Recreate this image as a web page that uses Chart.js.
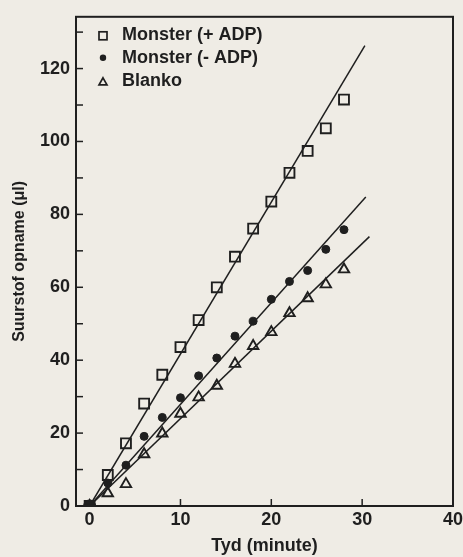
<!DOCTYPE html>
<html>
<head>
<meta charset="utf-8">
<script src="https://cdn.jsdelivr.net/npm/chart.js@4/dist/chart.umd.min.js"></script>
<style>
  html,body{margin:0;padding:0;background:#efece5;}
  #wrap{width:463px;height:557px;position:relative;}
</style>
</head>
<body>
<div id="wrap"><canvas id="chart" width="463" height="557"></canvas></div>
<script>
// time points (minutes)
var timeMin=[0,2,4,6,8,10,12,14,16,18,20,22,24,26,28];
// oxygen uptake (ul) per series
var plusADP=[0,8.5,17.2,28.1,36,43.6,51,60,68.4,76.1,83.5,91.4,97.4,103.6,111.5];
var minusADP=[0,6.3,11.2,19.1,24.3,29.7,35.7,40.6,46.6,50.7,56.7,61.6,64.6,70.4,75.8];
var blanko=[0,3.5,6,14.2,19.9,25.3,29.8,33,39,43.9,47.7,52.9,57,60.8,64.9];
// fitted lines: start and end points
var fitPlus=[[0,0],[30.3,126.3]];
var fitMinus=[[0,0],[30.4,84.8]];
var fitBlanko=[[0,0],[30.8,73.9]];
var legendLabels=['Monster (+ ADP)','Monster (- ADP)','Blanko'];
var xTicks=[0,10,20,30,40];

var ink='#1f1f1f';
var fam='"Liberation Sans", Arial, sans-serif';
function pts(xs,ys){return xs.map(function(x,i){return {x:x,y:ys[i]};});}
function seg(p){return p.map(function(q){return {x:q[0],y:q[1]};});}

var framePlugin={
  id:'frame',
  afterDraw:function(chart){
    var c=chart.ctx, a=chart.chartArea;
    var xs=chart.scales.x, ys=chart.scales.y;
    c.save();
    c.strokeStyle=ink;
    c.lineWidth=2;
    c.strokeRect(a.left,a.top,a.right-a.left,a.bottom-a.top);
    c.lineWidth=1.5;
    for(var v=10;v<=130;v+=10){
      var py=ys.getPixelForValue(v);
      c.beginPath();c.moveTo(a.left,py);c.lineTo(a.left+7,py);c.stroke();
    }
    [10,20,30].forEach(function(v){
      var px=xs.getPixelForValue(v);
      c.beginPath();c.moveTo(px,a.bottom);c.lineTo(px,a.bottom-7);c.stroke();
    });
    // legend
    c.font='bold 18px '+fam;
    c.fillStyle=ink;
    c.textBaseline='middle';
    var lx=a.left+27, ty=a.top+18;
    legendLabels.forEach(function(t,i){
      var y=ty+i*23;
      c.lineWidth=1.7;
      if(i===0){c.strokeRect(lx-4,y-3,8,8);}
      else if(i===1){c.beginPath();c.arc(lx,y,3.2,0,Math.PI*2);c.fill();}
      else{c.beginPath();c.moveTo(lx,y-3);c.lineTo(lx+4,y+4);c.lineTo(lx-4,y+4);c.closePath();c.stroke();}
      c.fillText(t,lx+19,y);
    });
    c.restore();
  }
};

new Chart(document.getElementById('chart'),{
  type:'scatter',
  data:{datasets:[
    {label:legendLabels[0],data:pts(timeMin,plusADP),pointStyle:'rect',pointRadius:7,
     borderColor:ink,backgroundColor:'rgba(0,0,0,0)',pointBorderWidth:1.9},
    {label:legendLabels[1],data:pts(timeMin,minusADP),pointStyle:'circle',
     pointRadius:function(ctx){return ctx.dataIndex===0?6:4;},
     borderColor:ink,backgroundColor:ink,pointBorderWidth:1},
    {label:legendLabels[2],data:pts(timeMin,blanko),pointStyle:'triangle',pointRadius:6,
     borderColor:ink,backgroundColor:'rgba(0,0,0,0)',pointBorderWidth:1.9},
    {type:'line',data:seg(fitPlus),borderColor:ink,borderWidth:1.5,pointRadius:0,fill:false},
    {type:'line',data:seg(fitMinus),borderColor:ink,borderWidth:1.5,pointRadius:0,fill:false},
    {type:'line',data:seg(fitBlanko),borderColor:ink,borderWidth:1.5,pointRadius:0,fill:false}
  ]},
  options:{
    responsive:false,animation:false,
    layout:{padding:{top:14,right:10,left:10,bottom:0}},
    plugins:{legend:{display:false},tooltip:{enabled:false}},
    scales:{
      x:{type:'linear',min:-1.5,max:40,
        afterFit:function(s){s.height=51;s.paddingRight=0;},
        afterBuildTicks:function(s){s.ticks=xTicks.map(function(v){return {value:v};});},
        grid:{display:false,drawTicks:false},
        border:{display:false},
        ticks:{color:ink,padding:3,font:{family:fam,size:18,weight:'bold'}},
        title:{display:true,text:'Tyd (minute)',color:ink,padding:{top:2,bottom:0},
          font:{family:fam,size:18,weight:'bold'}}
      },
      y:{type:'linear',min:0,max:134.2,
        afterFit:function(s){s.width=66;},
        grid:{display:false,drawTicks:false},
        border:{display:false},
        ticks:{stepSize:10,color:ink,padding:6,
          callback:function(v){return v%20===0?v:'';},
          font:{family:fam,size:18,weight:'bold'}},
        title:{display:true,text:'Suurstof opname (\u03bcl)',color:ink,padding:{top:0,bottom:4},
          font:{family:fam,size:16,weight:'bold'}}
      }
    }
  },
  plugins:[framePlugin]
});
</script>
</body>
</html>
